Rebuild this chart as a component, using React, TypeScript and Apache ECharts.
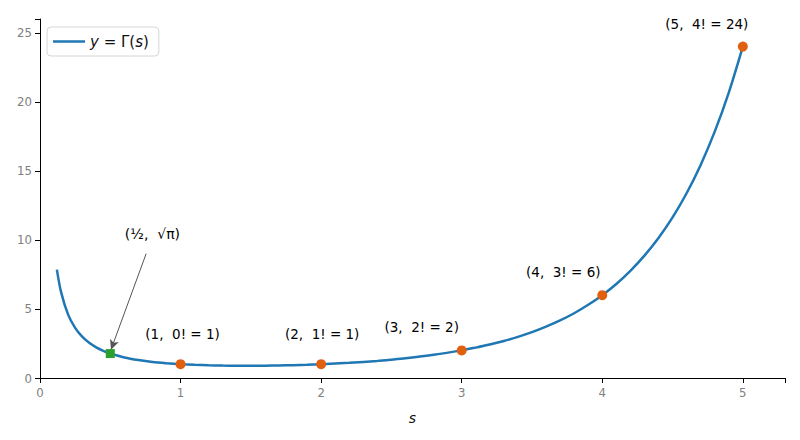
import { useEffect, useRef } from "react";
import * as echarts from "echarts";

// Γ(s)
const curveS = [
  0.12, 0.15, 0.2, 0.25, 0.3, 0.35, 0.4, 0.45, 0.5, 0.6, 0.7, 0.8, 0.9, 1.0,
  1.1, 1.2, 1.3, 1.4, 1.46, 1.5, 1.6, 1.7, 1.8, 1.9, 2.0, 2.2, 2.4, 2.5, 2.6,
  2.8, 3.0, 3.1, 3.2, 3.3, 3.4, 3.5, 3.6, 3.7, 3.8, 3.9, 4.0, 4.1, 4.2, 4.3,
  4.4, 4.5, 4.6, 4.7, 4.8, 4.9, 5.0,
];
const curveGamma = [
  7.85, 6.22, 4.59, 3.63, 2.99, 2.55, 2.22, 1.97, 1.77, 1.49, 1.3, 1.16, 1.07,
  1.0, 0.951, 0.918, 0.898, 0.887, 0.886, 0.886, 0.894, 0.909, 0.931, 0.962,
  1.0, 1.1, 1.24, 1.33, 1.43, 1.68, 2.0, 2.2, 2.42, 2.68, 2.98, 3.32, 3.72,
  4.17, 4.69, 5.3, 6.0, 6.81, 7.76, 8.86, 10.14, 11.63, 13.38, 15.43, 17.84,
  20.67, 24.0,
];

const factS = [1, 2, 3, 4, 5];
const factVal = [1, 1, 2, 6, 24];
const factLabels = ["(1,  0! = 1)", "(2,  1! = 1)", "(3,  2! = 2)", "(4,  3! = 6)", "(5,  4! = 24)"];

const halfPoint = [0.5, 1.77];
const halfLabel = "(½,  √π)";

const xTicks = [0, 1, 2, 3, 4, 5];
const yTicks = [0, 5, 10, 15, 20, 25];

const tickFont = "'DejaVu Sans Condensed', 'DejaVu Sans', sans-serif";
const mathFont = "'DejaVu Sans', sans-serif";

export default function App() {
  const ref = useRef<HTMLDivElement>(null);

  useEffect(() => {
    if (!ref.current) return;
    const chart = echarts.init(ref.current, undefined, { renderer: "svg" });

    // label offsets so the texts sit like the annotations
    const offsets = [[2, -30], [1, -30], [-40, -23], [-39, -23], [-36, -23]];

    const option: echarts.EChartsOption = {
      animation: false,
      grid: { left: 40, right: 15, top: 19, bottom: 62 },
      legend: {
        left: 47,
        top: 27,
        data: ["gamma"],
        icon: "rect",
        itemWidth: 32,
        itemHeight: 2.5,
        itemGap: 10,
        padding: [7, 10, 7, 6],
        backgroundColor: "#fff",
        borderColor: "#d6d6d6",
        borderWidth: 1,
        borderRadius: 4,
        formatter: () => "{i|y} = Γ({i|s})",
        textStyle: {
          fontFamily: mathFont,
          fontSize: 15,
          color: "#111",
          rich: {
            i: { fontFamily: mathFont, fontStyle: "italic", fontSize: 15, color: "#111" },
          },
        },
      },
      xAxis: {
        type: "value",
        min: 0,
        max: 5.3,
        interval: 1,
        name: "s",
        nameLocation: "middle",
        nameGap: 33,
        nameTextStyle: { fontFamily: mathFont, fontStyle: "italic", fontSize: 14, color: "#111" },
        axisLine: { onZero: false, lineStyle: { color: "#000", width: 1 } },
        axisTick: { length: 5, lineStyle: { color: "#000" } },
        axisLabel: {
          fontFamily: tickFont,
          fontSize: 13,
          color: "#808080",
          margin: 8,
          formatter: (v: number) => (xTicks.includes(v) ? String(v) : ""),
        },
        splitLine: { show: false },
      },
      yAxis: {
        type: "value",
        min: 0,
        max: 26,
        interval: 5,
        axisLine: { show: true, onZero: false, lineStyle: { color: "#000", width: 1 } },
        axisTick: { show: true, length: 5, lineStyle: { color: "#000" } },
        axisLabel: {
          fontFamily: tickFont,
          fontSize: 13,
          color: "#808080",
          margin: 8,
          formatter: (v: number) => (yTicks.includes(v) ? String(v) : ""),
        },
        splitLine: { show: false },
      },
      series: [
        {
          name: "gamma",
          type: "line",
          data: curveS.map((s, i) => [s, curveGamma[i]]),
          smooth: 0.3,
          showSymbol: false,
          lineStyle: { color: "#1f77b4", width: 2.5 },
          itemStyle: { color: "#1f77b4" },
          z: 2,
        },
        {
          name: "fact",
          type: "scatter",
          symbol: "circle",
          symbolSize: 10,
          itemStyle: { color: "#e0600f", opacity: 1 },
          data: factS.map((s, i) => ({
            value: [s, factVal[i]],
            label: {
              show: true,
              formatter: factLabels[i],
              position: "inside",
              offset: offsets[i],
              fontFamily: mathFont,
              fontSize: 13.5,
              color: "#000",
            },
          })),
          z: 5,
        },
        {
          name: "half",
          type: "scatter",
          symbol: "rect",
          symbolSize: 9,
          itemStyle: { color: "#2ca02c", opacity: 1 },
          data: [halfPoint],
          z: 6,
          markLine: {
            silent: true,
            symbol: ["none", "arrow"],
            symbolSize: [7, 10],
            lineStyle: { color: "#555", width: 1, type: "solid", opacity: 1 },
            label: { show: false },
            data: [[{ coord: [0.755, 9.0] }, { coord: [0.505, 2.05] }]],
          },
          markPoint: {
            silent: true,
            symbol: "circle",
            symbolSize: 0,
            label: {
              show: true,
              position: "inside",
              formatter: halfLabel,
              fontFamily: mathFont,
              fontSize: 14,
              color: "#000",
            },
            data: [{ coord: [0.8, 10.4] }],
          },
        },
      ],
    };

    chart.setOption(option);
    return () => chart.dispose();
  }, []);

  return (
    <div
      ref={ref}
      style={{ position: "absolute", left: 0, top: 0, width: 800, height: 440 }}
    />
  );
}
